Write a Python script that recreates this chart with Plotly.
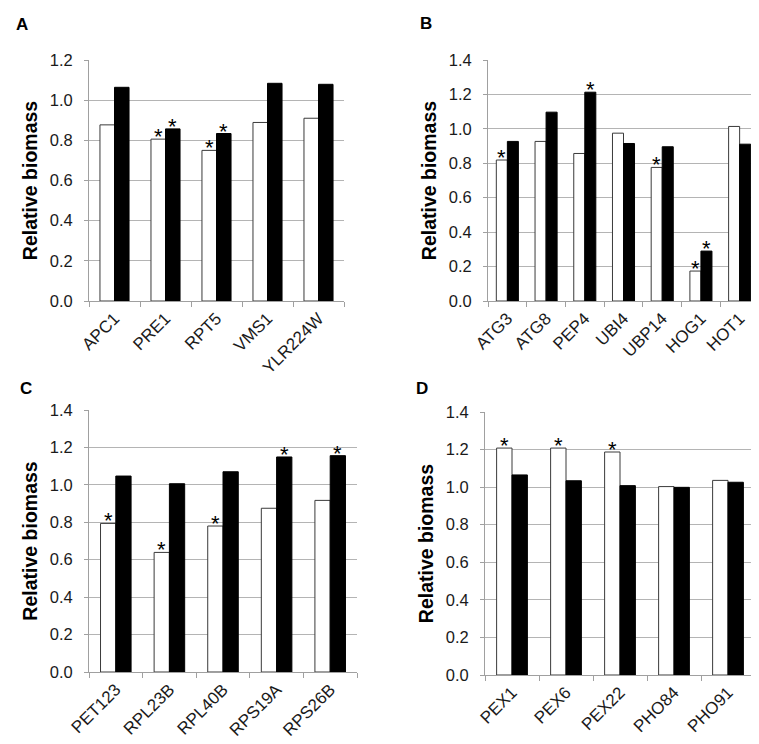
import plotly.graph_objects as go

FONT = "Liberation Sans, Arial, sans-serif"

# ---- data ----
a_genes = ["APC1", "PRE1", "RPT5", "VMS1", "YLR224W"]
a_white = [0.877, 0.806, 0.750, 0.889, 0.910]
a_black = [1.064, 0.857, 0.834, 1.084, 1.079]
a_white_sig = [0, 1, 1, 0, 0]
a_black_sig = [0, 1, 1, 0, 0]

b_genes = ["ATG3", "ATG8", "PEP4", "UBI4", "UBP14", "HOG1", "HOT1"]
b_white = [0.819, 0.927, 0.857, 0.975, 0.776, 0.174, 1.014]
b_black = [0.927, 1.097, 1.213, 0.915, 0.896, 0.290, 0.911]
b_white_sig = [1, 0, 0, 0, 1, 1, 0]
b_black_sig = [0, 0, 1, 0, 0, 1, 0]

c_genes = ["PET123", "RPL23B", "RPL40B", "RPS19A", "RPS26B"]
c_white = [0.794, 0.639, 0.780, 0.875, 0.917]
c_black = [1.047, 1.006, 1.070, 1.149, 1.156]
c_white_sig = [1, 1, 1, 0, 0]
c_black_sig = [0, 0, 0, 1, 1]

d_genes = ["PEX1", "PEX6", "PEX22", "PHO84", "PHO91"]
d_white = [1.208, 1.208, 1.187, 1.003, 1.036]
d_black = [1.065, 1.034, 1.008, 0.999, 1.026]
d_white_sig = [1, 1, 1, 0, 0]
d_black_sig = [0, 0, 0, 0, 0]

y_max = [1.2, 1.4, 1.4, 1.4]
panel_labels = ["A", "B", "C", "D"]
y_title = "Relative biomass"

# ---- layout geometry ----
W, H = 759, 744
BARGAP = 0.43
x_domains = [(81 / W, 336 / W), (480 / W, 751 / W), (81 / W, 349 / W), (477 / W, 747 / W)]
y_domains = [(1 - 293 / H, 1 - 52 / H), (1 - 293 / H, 1 - 52 / H),
             (1 - 664 / H, 1 - 402 / H), (1 - 667 / H, 1 - 404 / H)]
label_pos = [(14, 17), (418, 16), (18, 380), (414, 380)]

GRID = "#b4b4b4"
AXIS = "#a0a0a0"
TXT = "#1a1a1a"

panels = [
    (a_genes, a_white, a_black, a_white_sig, a_black_sig),
    (b_genes, b_white, b_black, b_white_sig, b_black_sig),
    (c_genes, c_white, c_black, c_white_sig, c_black_sig),
    (d_genes, d_white, d_black, d_white_sig, d_black_sig),
]

fig = go.Figure()
annotations = []
offset = (1 - BARGAP) / 4

for i, (genes, white, black, wsig, bsig) in enumerate(panels):
    n = i + 1
    xa = "x" if n == 1 else f"x{n}"
    ya = "y" if n == 1 else f"y{n}"
    fig.add_trace(go.Bar(x=genes, y=white, xaxis=xa, yaxis=ya,
                         marker=dict(color="white", line=dict(color="#3a3a3a", width=1)),
                         showlegend=False))
    fig.add_trace(go.Bar(x=genes, y=black, xaxis=xa, yaxis=ya,
                         marker=dict(color="black", line=dict(color="black", width=1)),
                         showlegend=False))
    for j, g in enumerate(genes):
        for sig, vals, off in ((wsig, white, -offset), (bsig, black, offset)):
            if sig[j]:
                annotations.append(dict(
                    x=j + off, y=vals[j], xref=xa, yref=ya, text="*",
                    showarrow=False, yanchor="bottom", xanchor="center",
                    yshift=-12, font=dict(family=FONT, size=22, color="black")))
    lx, ly = label_pos[i]
    annotations.append(dict(x=lx / W, y=1 - ly / H, xref="paper", yref="paper",
                            text=f"<b>{panel_labels[i]}</b>", showarrow=False,
                            xanchor="center", yanchor="middle",
                            font=dict(family=FONT, size=17, color="black")))

    xkey = "xaxis" if n == 1 else f"xaxis{n}"
    ykey = "yaxis" if n == 1 else f"yaxis{n}"
    fig.update_layout(**{
        xkey: dict(domain=list(x_domains[i]), anchor=ya, type="category",
                   range=[-0.5, len(genes) - 0.5], automargin=False,
                   showline=True, linecolor=AXIS, linewidth=1,
                   ticks="outside", tickson="boundaries", ticklen=5,
                   tickcolor=AXIS, tickwidth=1, tickangle=-45,
                   tickfont=dict(family=FONT, size=17, color=TXT),
                   showgrid=False, zeroline=False),
        ykey: dict(domain=list(y_domains[i]), anchor=xa, automargin=False,
                   range=[0, y_max[i]], dtick=0.2, tickformat=".1f",
                   showline=True, linecolor=AXIS, linewidth=1,
                   ticks="outside", ticklen=4, tickcolor=AXIS, tickwidth=1,
                   ticklabelstandoff=8,
                   tickfont=dict(family=FONT, size=16.5, color=TXT),
                   showgrid=True, gridcolor=GRID, gridwidth=1, zeroline=False,
                   title=dict(text=f"<b>{y_title}</b>", standoff=6,
                              font=dict(family=FONT, size=19.5, color="black"))),
    })

fig.update_layout(
    width=W, height=H, margin=dict(l=0, r=0, t=0, b=0),
    paper_bgcolor="white", plot_bgcolor="white",
    barmode="group", bargap=BARGAP, bargroupgap=0,
    annotations=annotations,
)

fig.write_html("out.html")
